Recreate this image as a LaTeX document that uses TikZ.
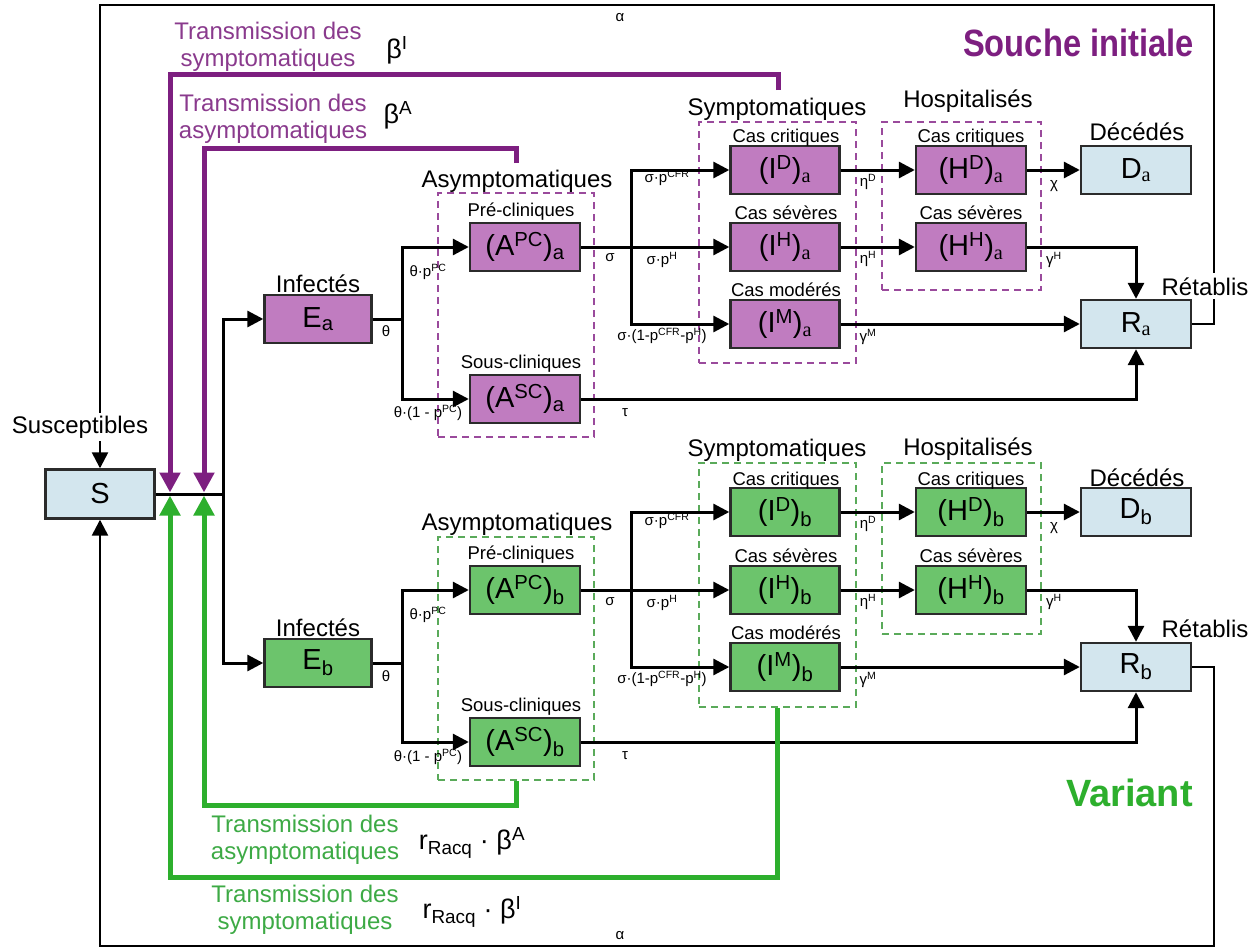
\documentclass[tikz,border=0pt]{standalone}
\usepackage{fontspec}
\usepackage{graphicx}
\setmainfont{Liberation Sans}
\newfontfamily\serifa{Liberation Serif}
\usetikzlibrary{arrows.meta}
\definecolor{pfill}{HTML}{C07CC0}
\definecolor{gfill}{HTML}{6CC46C}
\definecolor{bfill}{HTML}{D3E6EE}
\definecolor{pline}{HTML}{7D1F80}
\definecolor{gline}{HTML}{2DAF2D}
\definecolor{ptext}{HTML}{8A3A8D}
\definecolor{gtext}{HTML}{3DAA45}
\definecolor{pdash}{HTML}{9A4A9C}
\definecolor{gdash}{HTML}{5AAA5A}
\definecolor{boxline}{HTML}{2B2B2B}
\newcommand\fBox{\fontsize{29}{31}\selectfont}
\newcommand\fGrp{\fontsize{24}{26}\selectfont}
\newcommand\fCas{\fontsize{18.5}{21}\selectfont}
\newcommand\fPar{\fontsize{15}{17}\selectfont}
\newcommand\fTr{\fontsize{24}{27}\selectfont}
\newcommand\fBeta{\fontsize{27}{29}\selectfont}
\newcommand\fTitle{\fontsize{38}{40}\selectfont\bfseries}
\newcommand\sa{\textsubscript{\serifa a}}
\begin{document}
\begin{tikzpicture}[x=1pt,y=-1pt,
 box/.style={draw=boxline, line width=2.4pt, minimum width=109pt, minimum height=48pt, inner sep=0pt, font=\fBox},
 pbox/.style={box, fill=pfill},
 gbox/.style={box, fill=gfill},
 bbox/.style={box, fill=bfill},
 pdashbox/.style={draw=pdash, dash pattern=on 7pt off 5pt, line width=2pt, inner sep=0pt},
 gdashbox/.style={draw=gdash, dash pattern=on 7pt off 5pt, line width=2pt, inner sep=0pt},
 wire/.style={line width=3pt, draw=black},
 conn/.style={wire, -{Triangle[length=16pt,width=16pt]}},
 outer/.style={line width=2.5pt, draw=black, -{Triangle[length=16pt,width=16pt]}},
 pconn/.style={line width=5pt, draw=pline, -{Triangle[length=20pt,width=20pt]}},
 gconn/.style={line width=5pt, draw=gline, -{Triangle[length=20pt,width=20pt]}},
 grp/.style={anchor=base, inner sep=0pt, font=\fGrp},
 cas/.style={anchor=base, inner sep=0pt, font=\fCas},
 par/.style={anchor=center, inner sep=0pt, font=\fPar},
 trp/.style={align=center, inner sep=0pt, font=\fTr, text=ptext},
 trg/.style={align=center, inner sep=0pt, font=\fTr, text=gtext},
 beta/.style={inner sep=0pt, font=\fBeta}
]
\useasboundingbox (0,0) rectangle (1253,950);
\fill[white] (0,0) rectangle (1253,950);

% dashed groups
\node[pdashbox, minimum width=156pt, minimum height=244pt] (asyA) at (516,315) {};
\node[gdashbox, minimum width=156pt, minimum height=243pt] (asyB) at (516,658.5) {};
\node[pdashbox, minimum width=157pt, minimum height=241pt] (symA) at (777.5,242.5) {};
\node[gdashbox, minimum width=157pt, minimum height=244pt] (symB) at (777.5,585) {};
\node[pdashbox, minimum width=159pt, minimum height=168pt] (hosA) at (961.5,206) {};
\node[gdashbox, minimum width=159pt, minimum height=171pt] (hosB) at (961.5,548.5) {};

% boxes
\node[bbox, minimum height=49pt] (S) at (100,494) {S};
\node[pbox, minimum width=107pt] (Ea) at (318,319) {E\textsubscript{a}};
\node[gbox, minimum width=107pt] (Eb) at (318,663) {E\textsubscript{b}};
\node[pbox, minimum width=110pt] (APCa) at (525,247) {(A\textsuperscript{PC})\textsubscript{a}};
\node[pbox, minimum width=110pt] (ASCa) at (525,399) {(A\textsuperscript{SC})\textsubscript{a}};
\node[gbox, minimum width=110pt] (APCb) at (525,590) {(A\textsuperscript{PC})\textsubscript{b}};
\node[gbox, minimum width=110pt] (ASCb) at (525,742) {(A\textsuperscript{SC})\textsubscript{b}};
\node[pbox] (IDa) at (785,170) {(I\textsuperscript{D})\sa};
\node[pbox] (IHa) at (785,247) {(I\textsuperscript{H})\sa};
\node[pbox] (IMa) at (785,324) {(I\textsuperscript{M})\sa};
\node[gbox] (IDb) at (785,512) {(I\textsuperscript{D})\textsubscript{b}};
\node[gbox] (IHb) at (785,590) {(I\textsuperscript{H})\textsubscript{b}};
\node[gbox] (IMb) at (785,667) {(I\textsuperscript{M})\textsubscript{b}};
\node[pbox, minimum width=110pt] (HDa) at (971,170) {(H\textsuperscript{D})\sa};
\node[pbox, minimum width=110pt] (HHa) at (971,247) {(H\textsuperscript{H})\sa};
\node[gbox, minimum width=110pt] (HDb) at (971,512) {(H\textsuperscript{D})\textsubscript{b}};
\node[gbox, minimum width=110pt] (HHb) at (971,590) {(H\textsuperscript{H})\textsubscript{b}};
\node[bbox, minimum width=110pt] (Da) at (1136,170) {D\sa};
\node[bbox, minimum width=110pt] (Ra) at (1136,324) {R\sa};
\node[bbox, minimum width=110pt] (Db) at (1136,512) {D\textsubscript{b}};
\node[bbox, minimum width=110pt] (Rb) at (1136,667) {R\textsubscript{b}};

% outer loop (drawn before labels so labels mask it)
\coordinate (topR) at (1214,5);
\coordinate (topL) at (100,5);
\coordinate (botR) at (1214,946);
\coordinate (botL) at (100,946);
\draw[outer] (Ra.east) -| (topR) -- (topL) -- (S.north);
\draw[outer] (Rb.east) -| (botR) -- (botL) -- (S.south);
\node[par] (alA) at (620,18) {α};
\node[par] (alB) at (620,936) {α};

% group labels
\node[grp, fill=white, inner ysep=3pt, inner xsep=1pt] (lSus) at (80,433) {Susceptibles};
\node[grp] (lInfA) at (318,292) {Infectés};
\node[grp] (lInfB) at (318,636) {Infectés};
\node[grp] (lAsyA) at (517,187) {Asymptomatiques};
\node[grp] (lAsyB) at (517,530) {Asymptomatiques};
\node[grp] (lSymA) at (777,115) {Symptomatiques};
\node[grp] (lSymB) at (777,456) {Symptomatiques};
\node[grp] (lHosA) at (968,107) {Hospitalisés};
\node[grp] (lHosB) at (968,455) {Hospitalisés};
\node[grp] (lDecA) at (1137,140) {Décédés};
\node[grp] (lDecB) at (1137,486) {Décédés};
\node[grp, fill=white, inner ysep=4pt, inner xsep=1pt] (lRetA) at (1205,295) {Rétablis};
\node[grp] (lRetB) at (1205,637) {Rétablis};

\node[cas] (lPCa) at (521,216) {Pré-cliniques};
\node[cas] (lSCa) at (521,368) {Sous-cliniques};
\node[cas] (lPCb) at (521,559) {Pré-cliniques};
\node[cas] (lSCb) at (521,711) {Sous-cliniques};
\node[cas] (lCIa) at (786,142) {Cas critiques};
\node[cas] (lSIa) at (786,219) {Cas sévères};
\node[cas] (lMIa) at (786,296) {Cas modérés};
\node[cas] (lCIb) at (786,485) {Cas critiques};
\node[cas] (lSIb) at (786,562) {Cas sévères};
\node[cas] (lMIb) at (786,639) {Cas modérés};
\node[cas] (lCHa) at (971,142) {Cas critiques};
\node[cas] (lSHa) at (971,219) {Cas sévères};
\node[cas] (lCHb) at (971,485) {Cas critiques};
\node[cas] (lSHb) at (971,562) {Cas sévères};

% titles
\node[anchor=base east, inner sep=0pt, font=\fTitle, text=pline] (tA) at (1194,57) {\scalebox{0.86}[1]{Souche initiale}};
\node[anchor=base east, inner sep=0pt, font=\fTitle, text=gline] (tB) at (1193,806) {Variant};

% S to E
\coordinate (jS) at (223,494);
\draw[wire] (S.east) -- (jS);
\draw[conn] (jS) |- (Ea.west);
\draw[conn] (jS) |- (Eb.west);

% strain a
\coordinate (jEa) at (402,319);
\draw[wire] (Ea.east) -- (jEa);
\draw[conn] (jEa) |- (APCa.west);
\draw[conn] (jEa) |- (ASCa.west);
\coordinate (jAa) at (631,247);
\draw[wire] (APCa.east) -- (jAa);
\draw[conn] (jAa) |- (IDa.west);
\draw[conn] (jAa) -- (IHa.west);
\draw[conn] (jAa) |- (IMa.west);
\draw[conn] (IDa) -- (HDa);
\draw[conn] (IHa) -- (HHa);
\draw[conn] (HDa) -- (Da);
\draw[conn] (HHa.east) -| (Ra.north);
\draw[conn] (IMa) -- (Ra);
\draw[conn] (ASCa.east) -| (Ra.south);

% strain b
\coordinate (jEb) at (402,663);
\draw[wire] (Eb.east) -- (jEb);
\draw[conn] (jEb) |- (APCb.west);
\draw[conn] (jEb) |- (ASCb.west);
\coordinate (jAb) at (631,590);
\draw[wire] (APCb.east) -- (jAb);
\draw[conn] (jAb) |- (IDb.west);
\draw[conn] (jAb) -- (IHb.west);
\draw[conn] (jAb) |- (IMb.west);
\draw[conn] (IDb) -- (HDb);
\draw[conn] (IHb) -- (HHb);
\draw[conn] (HDb) -- (Db);
\draw[conn] (HHb.east) -| (Rb.north);
\draw[conn] (IMb) -- (Rb);
\draw[conn] (ASCb.east) -| (Rb.south);

% parameter labels a
\node[par] (pta) at (386,331) {θ};
\node[par] (ptpa) at (428,272) {θ·p\textsuperscript{PC}};
\node[par] (ptqa) at (428,413) {θ·(1 - p\textsuperscript{PC})};
\node[par] (psa) at (610,258) {σ};
\node[par] (pscfa) at (667,178) {σ·p\textsuperscript{CFR}};
\node[par] (psha) at (662,260) {σ·p\textsuperscript{H}};
\node[par] (psma) at (662,336) {σ·(1-p\textsuperscript{CFR}-p\textsuperscript{H})};
\node[par] (peda) at (868,182) {η\textsuperscript{D}};
\node[par] (peha) at (868,259) {η\textsuperscript{H}};
\node[par] (pgma) at (868,337) {γ\textsuperscript{M}};
\node[par] (pxa) at (1054,186) {χ};
\node[par] (pgha) at (1054,260) {γ\textsuperscript{H}};
\node[par] (ptaua) at (625,413) {τ};
% parameter labels b
\node[par] (ptb) at (386,676) {θ};
\node[par] (ptpb) at (428,615) {θ·p\textsuperscript{PC}};
\node[par] (ptqb) at (428,757) {θ·(1 - p\textsuperscript{PC})};
\node[par] (psb) at (610,602) {σ};
\node[par] (pscfb) at (667,521) {σ·p\textsuperscript{CFR}};
\node[par] (pshb) at (662,603) {σ·p\textsuperscript{H}};
\node[par] (psmb) at (662,679) {σ·(1-p\textsuperscript{CFR}-p\textsuperscript{H})};
\node[par] (pedb) at (868,524) {η\textsuperscript{D}};
\node[par] (pehb) at (868,602) {η\textsuperscript{H}};
\node[par] (pgmb) at (868,680) {γ\textsuperscript{M}};
\node[par] (pxb) at (1054,528) {χ};
\node[par] (pghb) at (1054,602) {γ\textsuperscript{H}};
\node[par] (ptaub) at (625,756) {τ};

% transmission loops
\coordinate (pSt) at (778,90);
\coordinate (pSk) at (170,75);
\coordinate (pSe) at (170,492.5);
\draw[pconn] (pSt) |- (pSk) -- (pSe);
\coordinate (pAt) at (516,163);
\coordinate (pAk) at (204,148);
\coordinate (pAe) at (204,492.5);
\draw[pconn] (pAt) |- (pAk) -- (pAe);
\coordinate (gAk) at (204,805);
\coordinate (gAe) at (204,495.5);
\draw[gconn] (asyB.south) |- (gAk) -- (gAe);
\coordinate (gSk) at (170,877);
\coordinate (gSe) at (170,495.5);
\draw[gconn] (symB.south) |- (gSk) -- (gSe);

\node[trp] (trSa) at (268,47) {Transmission des\\symptomatiques};
\node[beta] (bIa) at (397,50) {β\textsuperscript{I}};
\node[trp] (trAa) at (273,119) {Transmission des\\asymptomatiques};
\node[beta] (bAa) at (398,115) {β\textsuperscript{A}};
\node[trg] (trAb) at (305,840) {Transmission des\\asymptomatiques};
\node[beta] (bAb) at (472,843) {r\textsubscript{Racq} · β\textsuperscript{A}};
\node[trg] (trSb) at (305,910) {Transmission des\\symptomatiques};
\node[beta] (bSb) at (472,912) {r\textsubscript{Racq} · β\textsuperscript{I}};
\end{tikzpicture}
\end{document}
